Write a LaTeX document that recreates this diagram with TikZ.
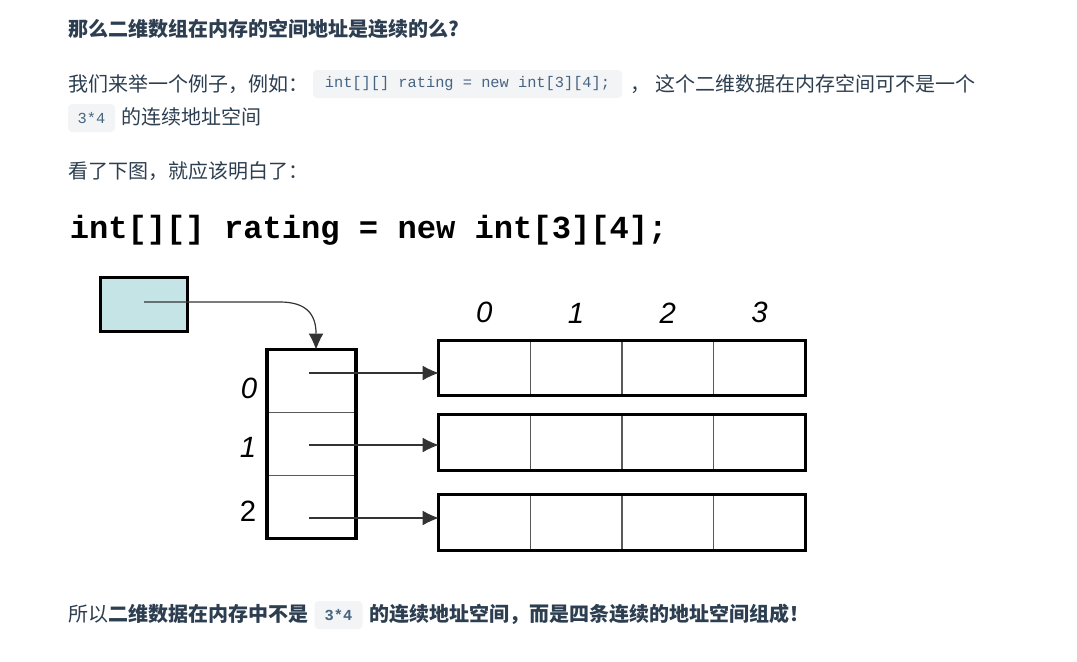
\documentclass[tikz,border=0pt]{standalone}
\usepackage{fontspec}
\usetikzlibrary{positioning,arrows.meta}
\newfontfamily\cjk{Noto Sans CJK SC}
\newfontfamily\codefont{Liberation Mono}
\newfontfamily\labelfont{Liberation Sans}
\definecolor{textc}{HTML}{2C3E50}
\definecolor{codec}{HTML}{476582}
\definecolor{codebg}{HTML}{F3F4F5}
\definecolor{refblue}{HTML}{C4E4E6}
\tikzset{
  para/.style={anchor=base west,inner sep=0pt,text=textc,font=\cjk\fontsize{15}{18}\selectfont},
  code/.style={fill=codebg,rounded corners=3pt,inner sep=0pt,minimum height=21pt,text=codec,font=\codefont\fontsize{11.5}{14}\selectfont},
  cell/.style={draw=black!65,line width=1pt,minimum width=68.8pt,minimum height=41.6pt,inner sep=0pt,outer sep=0pt},
  idxcell/.style={draw=black!65,line width=1pt,minimum width=66.75pt,minimum height=47.25pt,inner sep=0pt,outer sep=0pt},
  outline/.style={line width=2.3pt},
  ptr/.style={draw=black!80,line width=0.9pt,-{Latex[length=12pt,width=11pt,line width=0pt]}},
  num/.style={font=\labelfont\fontsize{22}{26}\selectfont\itshape,inner sep=0pt},
}
\begin{document}
\begin{tikzpicture}[x=0.75pt,y=-0.75pt]
  \fill[white] (0,0) rectangle (1077,661);
  \useasboundingbox (0,0) rectangle (1077,661);
  % page text
  \node[para] (title) at (68,36) {\bfseries 那么二维数组在内存的空间地址是连续的么?};
  \node[para] (l1a) at (68,91) {我们来举一个例子，例如：};
  \node[code,minimum width=231.75pt] (c1) at (467.5,84) {int[][] rating = new int[3][4];};
  \node[para] (l1b) at (630,91) {，};
  \node[para] (l1c) at (655,91) {这个二维数据在内存空间可不是一个};
  \node[code,minimum width=35.25pt] (c2) at (91.5,118) {3*4};
  \node[para] (l2) at (121,124) {的连续地址空间};
  \node[para] (l3) at (68,178) {看了下图，就应该明白了：};
  % the picture
  \node[anchor=base west,inner sep=0pt,font=\codefont\bfseries\fontsize{24.1}{28}\selectfont] (decl) at (69.5,238) {int[][] rating = new int[3][4];};
  \node[draw,line width=2.3pt,fill=refblue,minimum width=65.2pt,minimum height=40.45pt,inner sep=0pt] (ref) at (144,304.5) {};
  % index column
  \node[idxcell] (idx0) at (311.5,381) {};
  \node[idxcell,below=0pt of idx0] (idx1) {};
  \node[idxcell,below=0pt of idx1] (idx2) {};
  \draw[outline] (idx0.north west) rectangle (idx2.south east);
  \node[num] (r0) at (249,388) {0};
  \node[num] (r1) at (248,447) {1};
  \node[num,font=\labelfont\fontsize{22}{26}\selectfont] (r2) at (248,511) {2};
  % rows
  \node[cell] (c00) at (484.4,368) {};
  \node[cell,right=0pt of c00] (c01) {};
  \node[cell,right=0pt of c01] (c02) {};
  \node[cell,right=0pt of c02] (c03) {};
  \draw[outline] (c00.north west) rectangle (c03.south east);
  \node[cell] (c10) at (484.4,442.5) {};
  \node[cell,right=0pt of c10] (c11) {};
  \node[cell,right=0pt of c11] (c12) {};
  \node[cell,right=0pt of c12] (c13) {};
  \draw[outline] (c10.north west) rectangle (c13.south east);
  \node[cell] (c20) at (484.4,522.5) {};
  \node[cell,right=0pt of c20] (c21) {};
  \node[cell,right=0pt of c21] (c22) {};
  \node[cell,right=0pt of c22] (c23) {};
  \draw[outline] (c20.north west) rectangle (c23.south east);
  \node[num,above=12.75pt of c00] (h0) {0};
  \node[num,above=12.75pt of c01] (h1) {1};
  \node[num,above=12.75pt of c02] (h2) {2};
  \node[num,above=12.75pt of c03] (h3) {3};
  % pointers
  \coordinate (p0) at (309,373);
  \coordinate (p1) at (309,445);
  \coordinate (p2) at (309,518);
  \draw[ptr] (p0) -- (p0 -| c00.west);
  \draw[ptr] (p1) -- (p1 -| c10.west);
  \draw[ptr] (p2) -- (p2 -| c20.west);
  \draw[ptr] ([yshift=1.9pt]ref.center) -- (280,302) .. controls (306,302) and (316,314) .. ([xshift=3.4pt]idx0.north);
  % closing line
  \node[para] (s1) at (68,621) {所以\textbf{二维数据在内存中不是}};
  \node[code,minimum width=36pt,font=\codefont\bfseries\fontsize{11.5}{14}\selectfont] (c3) at (338.5,615) {3*4};
  \node[para] (s2) at (369,621) {\bfseries 的连续地址空间，而是四条连续的地址空间组成！};
\end{tikzpicture}
\end{document}
